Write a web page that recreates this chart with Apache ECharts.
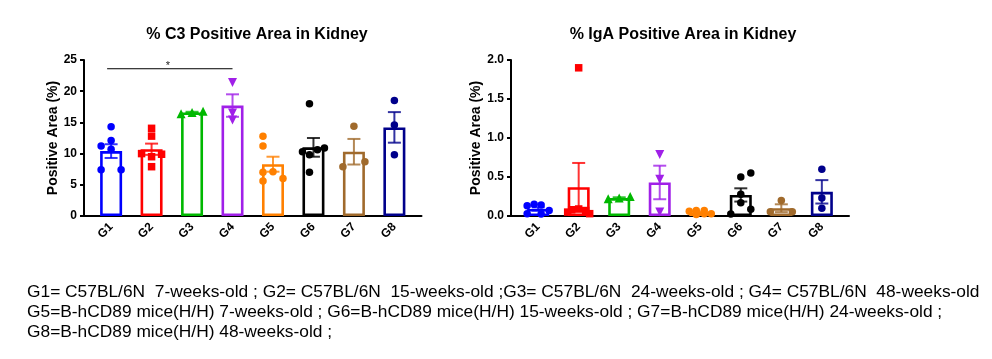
<!DOCTYPE html>
<html>
<head>
<meta charset="utf-8">
<script src="https://cdn.jsdelivr.net/npm/echarts@6/dist/echarts.min.js"></script>
<style>
html,body{margin:0;padding:0;background:#fff;}
#chart{width:992px;height:359px;}
</style>
</head>
<body>
<div id="chart"></div>
<script>
// ---------- data ----------
var categories = ['G1','G2','G3','G4','G5','G6','G7','G8'];

// C3 positive area (%)
var c3Mean = [10.4, 10.7, 16.6, 17.7, 8.3, 11.0, 10.3, 14.2];
var c3Sem  = [1.1, 0.9, 0.1, 1.8, 1.2, 1.5, 2.05, 2.45];
var c3Points = [
  [14.3, 12.1, 11.2, 10.7, 7.4, 7.4],
  [14.05, 12.8, 10.0, 9.9, 9.5, 7.9],
  [16.4, 16.6, 16.8],
  [21.4, 16.5, 15.4],
  [12.8, 11.2, 7.1, 7.0, 6.0, 5.6],
  [18.0, 10.9, 10.6, 10.3, 9.8, 7.0],
  [14.4, 8.7, 7.9],
  [18.5, 14.6, 9.8]
];
var c3Ticks = [0, 5, 10, 15, 20, 25];
var c3Sig = {from: 'G1', to: 'G4', y: 23.6, label: '*'};

// IgA positive area (%)
var igaMean = [0.09, 0.37, 0.23, 0.43, 0.045, 0.27, 0.10, 0.31];
var igaSem  = [0.02, 0.31, 0.01, 0.215, 0.01, 0.085, 0.05, 0.15];
var igaPoints = [
  [0.13, 0.15, 0.14, 0.03, 0.026, 0.07],
  [1.90, 0.09, 0.08, 0.07, 0.05, 0.03],
  [0.22, 0.23, 0.25],
  [0.79, 0.47, 0.05],
  [0.07, 0.07, 0.06, 0.03, 0.02, 0.03],
  [0.55, 0.50, 0.28, 0.17, 0.085, 0.026],
  [0.20, 0.055, 0.055],
  [0.60, 0.23, 0.10]
];
var igaTicks = [0, 0.5, 1.0, 1.5, 2.0];

var titles = ['% C3 Positive Area in Kidney', '% IgA Positive Area in Kidney'];
var yName = 'Positive Area (%)';
var footnote = [
  'G1= C57BL/6N  7-weeks-old ; G2= C57BL/6N  15-weeks-old ;G3= C57BL/6N  24-weeks-old ; G4= C57BL/6N  48-weeks-old',
  'G5=B-hCD89 mice(H/H) 7-weeks-old ; G6=B-hCD89 mice(H/H) 15-weeks-old ; G7=B-hCD89 mice(H/H) 24-weeks-old ;',
  'G8=B-hCD89 mice(H/H) 48-weeks-old ;'
];

// ---------- styles / layout (not data) ----------
var colors = ['#0000ff','#ff0000','#00b800','#a020e8','#ff8000','#000000','#a06a2c','#00008b'];
var symbols = ['circle','rect','triangle','triangle','circle','circle','circle','circle'];
var symRot  = [0,0,0,180,0,0,0,0];
var c3Jitter = [
  [0,0,-10,0,-10,10],
  [0,0,-10,10,0,0],
  [-11,0,11],
  [0,0,0],
  [-10,-10,0,-10,10,-10],
  [-4,11,4,-11,-4,-4],
  [0,11,-11],
  [0,0,0]
];
var igaJitter = [
  [-11,-4,3,-11,3,11],
  [0,0,-7,7,-11,11],
  [-11,0,11],
  [0,0,0],
  [-4,4,-11,11,-4,4],
  [10,0,0,0,10,-10],
  [0,-11,11],
  [0,0,0]
];
var FONT = "'Liberation Sans', Arial, sans-serif";

function buildChart(idx, mean, sem, points, jitter, ticks, grid, yfmt) {
  var series = [];
  var xi = idx, yi = idx;
  // bars
  series.push({
    type: 'bar', xAxisIndex: xi, yAxisIndex: yi, barWidth: 22, z: 2,
    data: mean.map(function (v, i) {
      return {value: [i + 1, v], itemStyle: {color: 'rgba(255,255,255,0)', borderColor: colors[i], borderWidth: 2.6}};
    }),
    silent: true
  });
  // error bars (mean ± SEM)
  series.push({
    type: 'custom', xAxisIndex: xi, yAxisIndex: yi, z: 3,
    data: mean.map(function (v, i) { return [i + 1, v, sem[i]]; }),
    renderItem: function (params, api) {
      var x = api.value(0), m = api.value(1), s = api.value(2);
      var top = api.coord([x, m + s]);
      var bot = api.coord([x, m - s]);
      var half = 6.5;
      var st = {stroke: colors[params.dataIndex], lineWidth: 2, opacity: 0.8};
      return {type: 'group', children: [
        {type: 'line', shape: {x1: top[0], y1: top[1], x2: bot[0], y2: bot[1]}, style: st},
        {type: 'line', shape: {x1: top[0] - half, y1: top[1], x2: top[0] + half, y2: top[1]}, style: st},
        {type: 'line', shape: {x1: bot[0] - half, y1: bot[1], x2: bot[0] + half, y2: bot[1]}, style: st}
      ]};
    },
    silent: true
  });
  // points
  points.forEach(function (pts, g) {
    series.push({
      type: 'scatter', xAxisIndex: xi, yAxisIndex: yi, z: 4,
      symbol: symbols[g], symbolRotate: symRot[g],
      symbolSize: symbols[g] === 'triangle' ? 9 : 7.5,
      itemStyle: {color: colors[g], opacity: 1},
      data: pts.map(function (v, k) {
        return {value: [g + 1, v], symbolOffset: [jitter[g][k], 0]};
      }),
      silent: true
    });
  });
  var xAxis = {
    type: 'value', gridIndex: idx, min: 0.33, max: 8.67,
    axisLine: {show: true, onZero: false, lineStyle: {color: '#000', width: 2}},
    axisTick: {show: false},
    splitLine: {show: false},
    axisLabel: {
      customValues: categories.map(function (c, i) { return i + 1; }),
      formatter: function (v) { return categories[Math.round(v) - 1] || ''; },
      rotate: 45, margin: 9, color: '#000', fontWeight: 'bold', fontSize: 12, fontFamily: FONT
    }
  };
  var yAxis = {
    type: 'value', gridIndex: idx, min: ticks[0], max: ticks[ticks.length - 1],
    interval: ticks[1] - ticks[0],
    name: yName, nameLocation: 'middle', nameGap: idx === 0 ? 24 : 28, nameRotate: 90,
    nameTextStyle: {color: '#000', fontWeight: 'bold', fontSize: 14, fontFamily: FONT},
    axisLine: {show: true, lineStyle: {color: '#000', width: 2}},
    axisTick: {show: true, length: 4, lineStyle: {color: '#000', width: 2}},
    splitLine: {show: false},
    axisLabel: {color: '#000', fontWeight: 'bold', fontSize: 12, fontFamily: FONT, margin: 7, formatter: yfmt}
  };
  return {series: series, xAxis: xAxis, yAxis: yAxis, grid: grid};
}

var left = buildChart(0, c3Mean, c3Sem, c3Points, c3Jitter, c3Ticks,
  {left: 84, top: 60, width: 337.5, height: 156}, function (v) { return String(v); });
var right = buildChart(1, igaMean, igaSem, igaPoints, igaJitter, igaTicks,
  {left: 511, top: 60, width: 338, height: 156}, function (v) { return v.toFixed(1); });

// significance bracket on C3 chart
var sigX1 = categories.indexOf(c3Sig.from) + 1, sigX2 = categories.indexOf(c3Sig.to) + 1;
var sigSeries = {
  type: 'custom', xAxisIndex: 0, yAxisIndex: 0, z: 5, silent: true,
  data: [[sigX1, sigX2, c3Sig.y]],
  renderItem: function (params, api) {
    var a = api.coord([api.value(0), api.value(2)]);
    var b = api.coord([api.value(1), api.value(2)]);
    return {type: 'group', children: [
      {type: 'line', shape: {x1: a[0] - 4, y1: a[1], x2: b[0], y2: b[1]}, style: {stroke: '#000', lineWidth: 1}},
      {type: 'text', x: (a[0] + b[0]) / 2 - 4, y: a[1] + 3,
       style: {text: c3Sig.label, fill: '#222', font: '11px ' + FONT, align: 'center', verticalAlign: 'bottom'}}
    ]};
  }
};

var graphics = footnote.map(function (t, i) {
  return {type: 'text', x: 27, y: 293 + i * 20, scaleX: 1.084, originX: 0,
    style: {text: t, fill: '#000', font: '16px ' + FONT, align: 'left', verticalAlign: 'middle'}};
});

var option = {
  backgroundColor: '#fff',
  animation: false,
  title: [
    {text: titles[0], left: 252, top: 22, textAlign: 'center',
     textStyle: {color: '#000', fontWeight: 'bold', fontSize: 16, fontFamily: FONT}},
    {text: titles[1], left: 678, top: 22, textAlign: 'center',
     textStyle: {color: '#000', fontWeight: 'bold', fontSize: 16, fontFamily: FONT}}
  ],
  grid: [left.grid, right.grid],
  xAxis: [left.xAxis, right.xAxis],
  yAxis: [left.yAxis, right.yAxis],
  series: left.series.concat(right.series).concat([sigSeries]),
  graphic: graphics
};

var chart = echarts.init(document.getElementById('chart'), null, {renderer: 'canvas'});
chart.setOption(option);
</script>
</body>
</html>
